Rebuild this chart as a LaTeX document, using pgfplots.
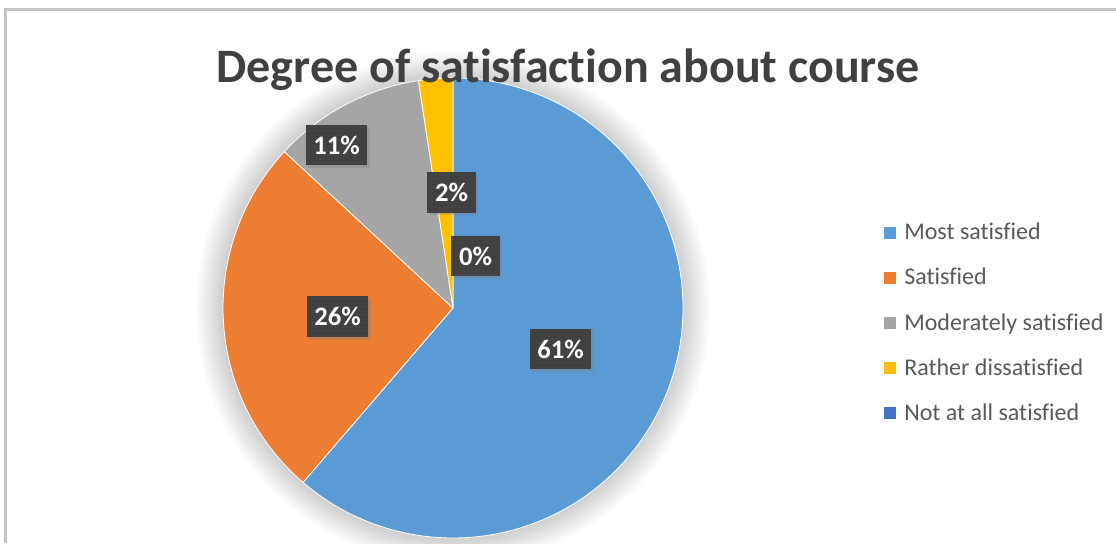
\documentclass[border=0pt]{standalone}
\usepackage{pgfplots}
\pgfplotsset{compat=1.18}
\usepackage{pgfplotstable}
\usepackage{fontspec}
\setmainfont{Carlito}[Ligatures={NoCommon}]
\usetikzlibrary{patterns,shadows}

\definecolor{cA}{HTML}{5B9BD5}
\definecolor{cB}{HTML}{ED7D31}
\definecolor{cC}{HTML}{A5A5A5}
\definecolor{cD}{HTML}{FFC000}
\definecolor{cE}{HTML}{4472C4}
\definecolor{titlec}{HTML}{404040}
\definecolor{legc}{HTML}{595959}
\definecolor{framec}{HTML}{C4C4C4}
\definecolor{boxc}{HTML}{404040}
\definecolor{dotc}{HTML}{585858}

% value = percent of respondents; lx, ly = label position (px)
\pgfplotstableread{
value lx    ly
61.3  560.5 194
25.6  337.5 226.5
10.7  336.5 398
2.4   451.5 350.5
0.0   475.5 287
}\piedata

\newcommand{\getv}[2]{\pgfplotstablegetelem{#1}{value}\of\piedata\let#2\pgfplotsretval}

\begin{document}
\begin{tikzpicture}[x=0.75pt,y=0.75pt]
\useasboundingbox (0,0) rectangle (1116,543);
\getv{0}{\vA}\getv{1}{\vB}\getv{2}{\vC}\getv{3}{\vD}\getv{4}{\vE}
\pgfmathsetmacro\aA{90}
\pgfmathsetmacro\aB{\aA-\vA*3.6}
\pgfmathsetmacro\aC{\aB-\vB*3.6}
\pgfmathsetmacro\aD{\aC-\vC*3.6}
\pgfmathsetmacro\aE{\aD-\vD*3.6}
% frame
\draw[framec, line width=1.6pt] (5.5,0) -- (5.5,533.5) -- (1116,533.5);
% soft glow around pie
\foreach \k in {1,...,16}{
  \fill[black, opacity=0.011] (453,235) circle[radius={(230+\k*1.7)*0.75pt}];
}
\begin{axis}[
  at={(0,0)}, anchor=south west,
  scale only axis, width=837pt, height=407.25pt,
  xmin=0, xmax=1116, ymin=0, ymax=543,
  hide axis, clip=false,
]
% slices
\addplot[draw=white, line width=0.6pt, fill=cA, domain=\aB:\aA, samples=120, forget plot]
  ({453+230*cos(x)}, {235+230*sin(x)}) -- (axis cs:453,235) -- cycle;
\addplot[draw=white, line width=0.6pt, fill=cB, domain=\aC:\aB, samples=60, forget plot]
  ({453+230*cos(x)}, {235+230*sin(x)}) -- (axis cs:453,235) -- cycle;
\addplot[draw=white, line width=0.6pt, fill=cC, domain=\aD:\aC, samples=30, forget plot]
  ({453+230*cos(x)}, {235+230*sin(x)}) -- (axis cs:453,235) -- cycle;
\addplot[draw=white, line width=0.6pt, fill=cD, domain=\aE:\aD, samples=10, forget plot]
  ({453+230*cos(x)}, {235+230*sin(x)}) -- (axis cs:453,235) -- cycle;
\end{axis}

% data labels
\foreach \i in {0,...,4}{
  \pgfplotstablegetelem{\i}{value}\of\piedata\let\vv\pgfplotsretval
  \pgfplotstablegetelem{\i}{lx}\of\piedata\let\lx\pgfplotsretval
  \pgfplotstablegetelem{\i}{ly}\of\piedata\let\ly\pgfplotsretval
  \pgfmathsetmacro\vr{round(\vv)}
  \node[fill=boxc, text=white, font=\fontsize{20pt}{22pt}\selectfont\bfseries,
     inner xsep=5.8pt, minimum height=30.5pt,
     drop shadow={shadow xshift=2pt, shadow yshift=-2pt, opacity=0.35},
     postaction={pattern=dots, pattern color=dotc}]
     at (\lx,\ly) {\pgfmathprintnumber[fixed,precision=0,assume math mode=true]{\vr}\%};
}

% title
\node[anchor=base, text=titlec, font=\fontsize{36pt}{40pt}\selectfont\bfseries]
  at (568,460) {Degree of satisfaction about course};

% legend
\foreach \c/\t/\yy in {cA/Most satisfied/303, cB/Satisfied/258, cC/Moderately satisfied/213, cD/Rather dissatisfied/168, cE/Not at all satisfied/123}{
  \fill[\c] (884,\yy+1) rectangle (896,\yy+13);
  \node[anchor=base west, inner sep=0pt, text=legc, font=\fontsize{18pt}{20pt}\selectfont] at (904,\yy) {\t};
}
\end{tikzpicture}
\end{document}
